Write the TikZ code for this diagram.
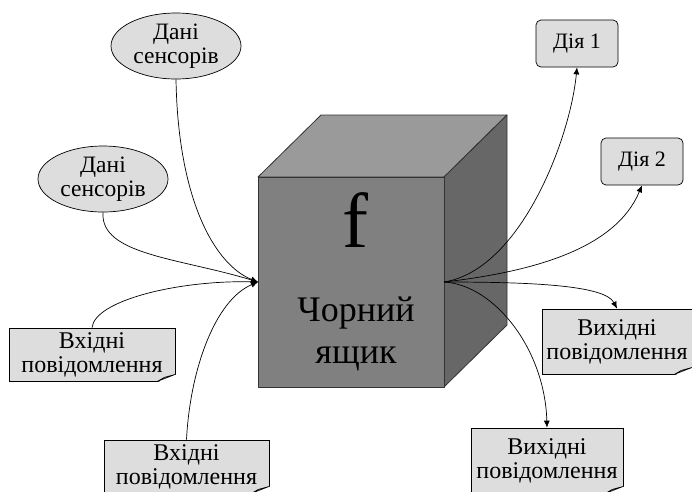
\documentclass[tikz,border=0pt]{standalone}
\usepackage{fontspec}
\setmainfont{Liberation Serif}
\usetikzlibrary{shapes.geometric,calc,arrows.meta}
\definecolor{boxgray}{HTML}{DDDDDD}
\definecolor{frontgray}{HTML}{808080}
\definecolor{topgray}{HTML}{9A9A9A}
\definecolor{sidegray}{HTML}{676767}
\definecolor{edgegray}{HTML}{333333}
\begin{document}
\begin{tikzpicture}[x=1pt,y=-1pt,
  lbl/.style={font=\fontsize{24}{24}\selectfont, align=center},
  sens/.style={ellipse, draw=black, fill=boxgray, line width=0.7pt, lbl, font=\fontsize{23.5}{24}\selectfont, inner sep=0pt, minimum width=130pt, minimum height=66pt},
  msg/.style={rectangle, draw=black, fill=boxgray, line width=0.7pt, lbl, inner sep=0pt, minimum height=53pt},
  act/.style={rectangle, rounded corners=5pt, draw=black, fill=boxgray, line width=0.7pt, lbl, font=\fontsize{22}{24}\selectfont, inner sep=0pt, minimum width=82pt, minimum height=47pt},
  face/.style={draw=edgegray, line width=0.8pt, line join=round},
  conn/.style={draw=black, line width=0.7pt, -{Latex[length=7pt,width=6pt]}}
]
\clip (0,0) rectangle (692,491);
\fill[white] (0,0) rectangle (692,491);

% cube
\coordinate (ftl) at (258,177);
\coordinate (ftr) at (444,177);
\coordinate (fbr) at (444,387);
\coordinate (fbl) at (258,387);
\coordinate (btl) at (321,115);
\coordinate (btr) at (507,115);
\coordinate (bbr) at (507,325);
\path[face, fill=topgray] (ftl) -- (btl) -- (btr) -- (ftr) -- cycle;
\path[face, fill=sidegray] (ftr) -- (btr) -- (bbr) -- (fbr) -- cycle;
\path[face, fill=frontgray] (ftl) -- (ftr) -- (fbr) -- (fbl) -- cycle;
\node[font=\fontsize{78}{80}\selectfont, anchor=base, inner sep=0pt] (fsym) at (355,247) {f};
\node[font=\fontsize{36}{42}\selectfont, align=center, inner sep=0pt] (bbox) at (356,334) {Чорний\\ящик};
\coordinate (inp) at (258,282);
\coordinate (outp) at (444,282);

% nodes
\node[sens] (e1) at (176,46) {Дані\\сенсорів};
\node[sens] (e2) at (103,179) {Дані\\сенсорів};
\node[msg, minimum width=166pt] (in1) at (92,354.5) {Вхідні\\повідомлення};
\node[msg, minimum width=165pt] (in2) at (186.5,466.5) {Вхідні\\повідомлення};
\node[msg, minimum width=150pt, minimum height=65pt] (out1) at (617,341.5) {Вихідні\\повідомлення};
\node[msg, minimum width=152pt, minimum height=65pt] (out2) at (547,460.5) {Вихідні\\повідомлення};
\node[act] (a1) at (577,43.5) {Дія 1};
\node[act] (a2) at (642,161.5) {Дія 2};

% folded corners
\foreach \b in {in1,in2,out1,out2}{
  \fill[white] ($(\b.south east)+(1,-7)$) -- ($(\b.south east)+(1,1)$) -- ($(\b.south east)+(-18,1)$) -- cycle;
  \filldraw[fill=boxgray, draw=black, line width=0.6pt, line join=round] ($(\b.south east)+(0,-7)$) -- ($(\b.south east)+(-11,-4)$) -- ($(\b.south east)+(-18,0)$) -- cycle;
}

% inputs
\draw[conn] (e1.south) .. controls (178,200) and (215,265) .. (inp);
\draw[conn] (e2.south) .. controls (100,255) and (180,258) .. (inp);
\draw[conn] (in1.north) .. controls (95,300) and (180,280) .. (inp);
\draw[conn] (in2.north) .. controls (190,370) and (215,300) .. (inp);

% outputs
\draw[conn] (outp) .. controls (520,270) and (570,140) .. (a1.south);
\draw[conn] (outp) .. controls (530,272) and (615,250) .. (a2.south);
\draw[conn] (outp) .. controls (530,282) and (605,285) .. (out1.north);
\draw[conn] (outp) .. controls (495,285) and (545,350) .. (out2.north);
\end{tikzpicture}
\end{document}
